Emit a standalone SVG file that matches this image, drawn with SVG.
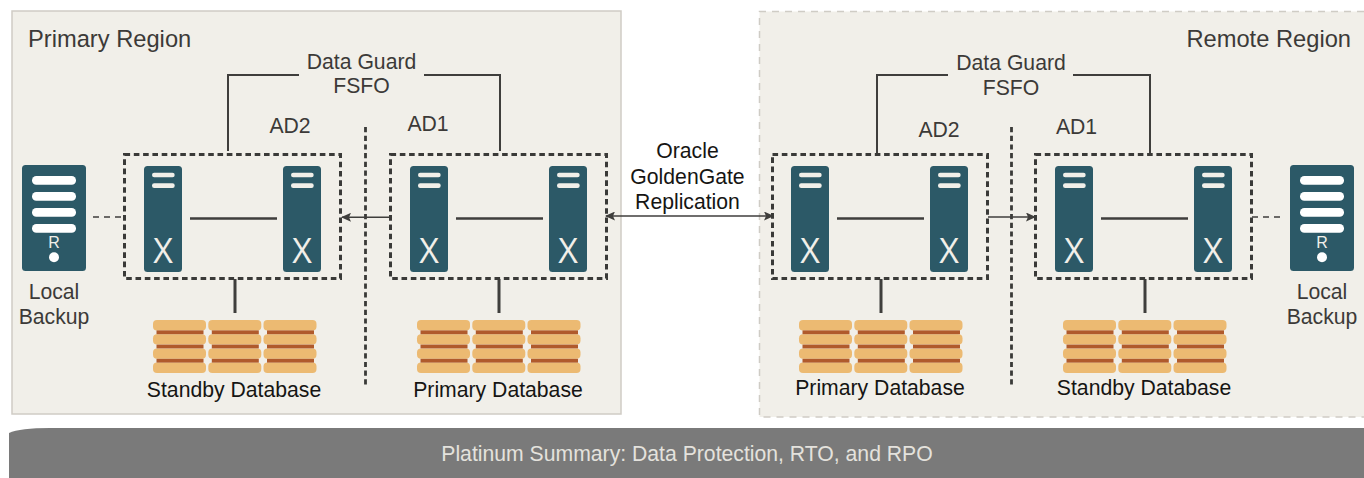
<svg xmlns="http://www.w3.org/2000/svg" width="1364" height="478" viewBox="0 0 1364 478">
<style>
text{font-family:"Liberation Sans",Arial,sans-serif;font-size:21.200px;fill:#3c3a38}
.m{text-anchor:middle}
.k{fill:#161513}
.r{font-size:23.700px}
.box{fill:none;stroke:#3a3a38;stroke-width:3;stroke-dasharray:5.600 3.700}
.c{fill:none;stroke:#3f3e3c;stroke-width:2}
.l{fill:none;stroke:#3f3e3c;stroke-width:2.500}
.t{fill:none;stroke:#3f3e3c;stroke-width:3}
.d{fill:none;stroke:#3f3e3c;stroke-width:1.500;stroke-dasharray:6 5}
.v{fill:none;stroke:#3a3a38;stroke-width:2.800;stroke-dasharray:5.200 3.500}
.s{fill:#2c5967}
.w{fill:#f1efe9}
.o{fill:#ecba72}
.b{fill:#b05a2c}
.x{font-family:"Open Sans","Liberation Sans",sans-serif;font-weight:400;font-size:34px;fill:#f1efe9;text-anchor:middle}
</style>
<defs>
<marker id="a" markerWidth="10" markerHeight="9" refX="9" refY="4.500" orient="auto-start-reverse" markerUnits="userSpaceOnUse"><path d="M0 0L10 4.500L0 9L2 4.500Z" fill="#3f3e3c"/></marker>
<symbol id="srv" width="38" height="106" overflow="visible">
<rect width="38" height="106" rx="3.500" class="s"/>
<rect x="8" y="6.700" width="22.700" height="4.600" rx="2.200" class="w"/>
<rect x="8" y="17.300" width="22.700" height="4.600" rx="2.200" class="w"/>
<text class="x" x="19" y="96.700">X</text>
</symbol>
<symbol id="bak" width="64" height="106" overflow="visible">
<rect width="64" height="106" rx="3.500" class="s"/>
<rect x="10" y="11" width="44" height="8.700" rx="4.300" fill="#fff"/>
<rect x="10" y="27" width="44" height="8.700" rx="4.300" fill="#fff"/>
<rect x="10" y="43" width="44" height="8.700" rx="4.300" fill="#fff"/>
<rect x="10" y="59" width="44" height="8.700" rx="4.300" fill="#fff"/>
<text x="32" y="83" class="m" style="font-size:16px;fill:#f1efe9">R</text>
<circle cx="32" cy="92.300" r="5" fill="#fff"/>
</symbol>
<symbol id="cyl" width="54" height="54" overflow="visible">
<rect width="53" height="10.400" rx="4" class="o"/><rect y="14.200" width="53" height="10.400" rx="4" class="o"/><rect y="28.400" width="53" height="10.400" rx="4" class="o"/><rect y="42.600" width="53" height="10.400" rx="4" class="o"/>
<rect x="3.500" y="10.400" width="47" height="3.800" class="b"/><rect x="3.500" y="24.600" width="47" height="3.800" class="b"/><rect x="3.500" y="38.800" width="47" height="3.800" class="b"/>
</symbol>
<symbol id="db" width="164" height="54" overflow="visible">
<use href="#cyl" x="0"/><use href="#cyl" x="55.300"/><use href="#cyl" x="110.500"/>
</symbol>
</defs>

<g id="primary-region">
<rect x="12" y="11" width="609" height="403" fill="#f1efe9" stroke="#cfccc5" stroke-width="1.500"/>
<text x="28" y="46.500" class="r">Primary Region</text>
</g>
<g id="remote-region">
<path d="M1364 11.500H759.500V417H1364" fill="#f1efe9" stroke="#cfccc5" stroke-width="1.500" stroke-dasharray="7 6"/>
<text x="1351" y="46.500" class="r" text-anchor="end">Remote Region</text>
</g>

<g id="connectors">
<path class="c" d="M228 151V75H299M424 75H500V151"/>
<path class="c" d="M877 154V75H948M1073 75H1150V154"/>
<path class="l" d="M190 218.500H277M456 218.500H543M837 218.500H924M1101 218.500H1188"/>
<path class="t" d="M235 279V313M499 279V313M881 279V313M1145 279V313"/>
<path class="d" d="M93 217H124M1252 217H1284"/>
<path class="v" d="M365.500 127V386M1011.500 127V386"/>
<path class="c" style="stroke-width:1.500" marker-end="url(#a)" d="M390 217.300H342"/>
<path class="d" style="stroke-dasharray:none" marker-end="url(#a)" d="M988 217H1035"/>
<path class="c" style="stroke-width:1.500" marker-start="url(#a)" marker-end="url(#a)" d="M606 216H773"/>
</g>

<g id="ad2-primary"><rect x="124.500" y="154.500" width="216" height="124" class="box"/><text x="290" y="132.700" class="m">AD2</text><use href="#srv" x="144" y="166"/><use href="#srv" x="283" y="166"/></g>
<g id="ad1-primary"><rect x="390.500" y="154.500" width="216" height="124" class="box"/><text x="428" y="131.300" class="m">AD1</text><use href="#srv" x="410" y="166"/><use href="#srv" x="549" y="166"/></g>
<g id="ad2-remote"><rect x="772.500" y="154.500" width="215" height="124" class="box"/><text x="939" y="136.700" class="m">AD2</text><use href="#srv" x="791" y="166"/><use href="#srv" x="930" y="166"/></g>
<g id="ad1-remote"><rect x="1035.500" y="154.500" width="216" height="124" class="box"/><text x="1076.500" y="133.700" class="m">AD1</text><use href="#srv" x="1055" y="166"/><use href="#srv" x="1194" y="166"/></g>

<g id="backup-primary"><use href="#bak" x="22" y="165"/><text class="m" x="54" y="299">Local</text><text class="m" x="54" y="324">Backup</text></g>
<g id="backup-remote"><use href="#bak" x="1290" y="165"/><text class="m" x="1322" y="299">Local</text><text class="m" x="1322" y="324">Backup</text></g>

<g id="standby-db-primary"><use href="#db" x="153" y="320"/><text class="m k" x="234" y="397">Standby Database</text></g>
<g id="primary-db-primary"><use href="#db" x="417" y="320"/><text class="m k" x="498" y="397">Primary Database</text></g>
<g id="primary-db-remote"><use href="#db" x="799" y="320"/><text class="m k" x="880" y="395">Primary Database</text></g>
<g id="standby-db-remote"><use href="#db" x="1063" y="320"/><text class="m k" x="1144" y="395">Standby Database</text></g>

<g id="fsfo-primary"><text class="m" x="361.500" y="68.700">Data Guard</text><text class="m" x="361.500" y="92.700">FSFO</text></g>
<g id="fsfo-remote"><text class="m" x="1011" y="69.700">Data Guard</text><text class="m" x="1011" y="94.500">FSFO</text></g>
<g id="replication"><text class="m k" x="687.500" y="157.800">Oracle</text><text class="m k" x="687.500" y="183.800">GoldenGate</text><text class="m k" x="687.500" y="208.800">Replication</text></g>

<g id="summary">
<path d="M9 478V433Q20 428 50 428H1364V478Z" fill="#7a7a7a"/>
<text class="m" x="687" y="461" style="fill:#e4e2dd">Platinum Summary: Data Protection, RTO, and RPO</text>
</g>
</svg>
